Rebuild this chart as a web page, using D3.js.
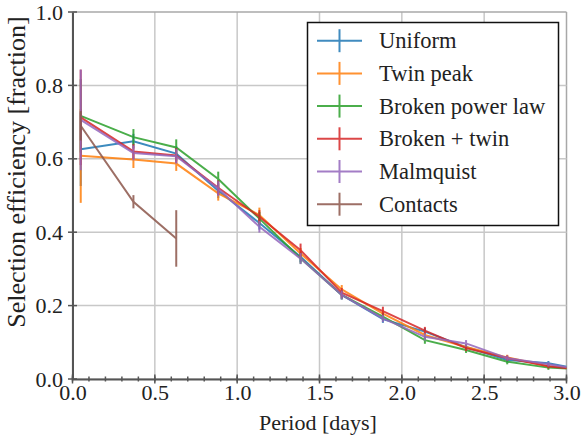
<!DOCTYPE html>
<html>
<head>
<meta charset="utf-8">
<script src="https://cdn.jsdelivr.net/npm/d3@7"></script>
<style>
  html, body { margin: 0; padding: 0; background: #fff; }
  svg { display: block; }
  svg text { font-family: "Liberation Serif", "DejaVu Serif", "Times New Roman", Times, serif !important; fill: #222; }
</style>
</head>
<body>
<svg id="chart" width="585" height="439" style="font-family: 'Liberation Serif', 'DejaVu Serif', serif;"></svg>
<script>
// ---- data ----
const periods = [0.05, 0.37, 0.63, 0.885, 1.135, 1.385, 1.635, 1.885, 2.14, 2.39, 2.64, 2.89, 3.14];
const seriesNames = ["Uniform", "Twin peak", "Broken power law", "Broken + twin", "Malmquist", "Contacts"];
const uniformVals   = [0.626, 0.648, 0.614, 0.513, 0.425, 0.333, 0.229, 0.163, 0.129, 0.087, 0.052, 0.043, 0.022];
const twinPeakVals  = [0.608, 0.598, 0.587, 0.506, 0.447, 0.342, 0.244, 0.178, 0.120, 0.087, 0.059, 0.035, 0.025];
const brokenVals    = [0.717, 0.659, 0.631, 0.545, 0.437, 0.329, 0.229, 0.170, 0.106, 0.079, 0.047, 0.031, 0.025];
const brokenTwinVals= [0.713, 0.620, 0.609, 0.521, 0.442, 0.351, 0.235, 0.185, 0.132, 0.084, 0.057, 0.035, 0.022];
const malmquistVals = [0.706, 0.616, 0.607, 0.519, 0.415, 0.328, 0.229, 0.165, 0.115, 0.097, 0.057, 0.040, 0.022];
const contactsVals  = [0.690, 0.483, 0.383];
const uniformErr    = [0.100, 0.020, 0.020, 0.020, 0.018, 0.015, 0.012, 0.010, 0.010, 0.008, 0.007, 0.006, 0.005];
const twinPeakErr   = [0.128, 0.023, 0.020, 0.020, 0.020, 0.015, 0.012, 0.010, 0.010, 0.008, 0.007, 0.006, 0.005];
const brokenErr     = [0.100, 0.022, 0.022, 0.020, 0.018, 0.015, 0.012, 0.010, 0.010, 0.008, 0.007, 0.006, 0.005];
const brokenTwinErr = [0.130, 0.020, 0.020, 0.020, 0.018, 0.018, 0.013, 0.012, 0.010, 0.008, 0.007, 0.006, 0.005];
const malmquistErr  = [0.137, 0.020, 0.020, 0.020, 0.016, 0.015, 0.012, 0.010, 0.010, 0.009, 0.007, 0.006, 0.005];
const contactsErr   = [0.040, 0.018, 0.077];
const xTicks = [0.0, 0.5, 1.0, 1.5, 2.0, 2.5, 3.0];
const xMinorTicks = d3.range(0, 3.0001, 0.1);
const yTicks = [0.0, 0.2, 0.4, 0.6, 0.8, 1.0];
const colors = ["#1f77b4", "#ff7f0e", "#2ca02c", "#d62728", "#9467bd", "#8c564b"];

const allVals = [uniformVals, twinPeakVals, brokenVals, brokenTwinVals, malmquistVals, contactsVals];
const allErrs = [uniformErr, twinPeakErr, brokenErr, brokenTwinErr, malmquistErr, contactsErr];
const series = seriesNames.map((name, i) => ({
  name, color: colors[i],
  points: allVals[i].map((v, j) => ({ x: periods[j], y: v, e: allErrs[i][j] }))
}));

// ---- layout ----
const FONT = "Liberation Serif, DejaVu Serif, serif";
const svg = d3.select("#chart");
const L = 72.5, R = 566.5, T = 12, B = 379;
const x = d3.scaleLinear().domain([0, 3]).range([L, R]);
const y = d3.scaleLinear().domain([0, 1]).range([B, T]);

svg.append("defs").append("clipPath").attr("id", "clip")
  .append("rect").attr("x", L).attr("y", T).attr("width", R - L).attr("height", B - T);

// grid
const grid = svg.append("g");
grid.selectAll(".gx").data(xTicks).join("line")
  .attr("x1", d => x(d)).attr("x2", d => x(d)).attr("y1", T).attr("y2", B)
  .attr("stroke", (d, i) => i === xTicks.length - 1 ? "#a8a8a8" : "#c8c8c8").attr("stroke-width", 1.5);
grid.selectAll(".gy").data(yTicks).join("line")
  .attr("y1", d => y(d)).attr("y2", d => y(d)).attr("x1", L).attr("x2", R)
  .attr("stroke", (d, i) => i === yTicks.length - 1 ? "#a8a8a8" : "#c8c8c8").attr("stroke-width", 1.5);

// series
const plot = svg.append("g").attr("clip-path", "url(#clip)");
const line = d3.line().x(d => x(d.x)).y(d => y(d.y));
series.forEach(s => {
  const g = plot.append("g").attr("opacity", 0.85);
  g.selectAll("line").data(s.points).join("line")
    .attr("x1", d => x(d.x)).attr("x2", d => x(d.x))
    .attr("y1", d => y(d.y - d.e)).attr("y2", d => y(d.y + d.e))
    .attr("stroke", s.color).attr("stroke-width", 2);
  g.append("path").datum(s.points).attr("d", line)
    .attr("fill", "none").attr("stroke", s.color).attr("stroke-width", 2);
});

// axes
const axisColor = "#555";
const xAxis = d3.axisBottom(x).tickValues(xTicks).tickFormat(d3.format(".1f")).tickSize(0);
const gx = svg.append("g").attr("transform", `translate(0,${B})`).call(xAxis)
  .attr("font-family", FONT).attr("font-size", 22);
gx.select(".domain").attr("stroke", axisColor).attr("stroke-width", 2);
gx.selectAll("text").attr("fill", "#222").attr("dy", null).attr("y", 21);
const yAxis = d3.axisLeft(y).tickValues(yTicks).tickFormat(d3.format(".1f")).tickSize(0);
const gy = svg.append("g").attr("transform", `translate(${L},0)`).call(yAxis)
  .attr("font-family", FONT).attr("font-size", 22);
gy.select(".domain").attr("stroke", axisColor).attr("stroke-width", 2);
gy.selectAll("text").attr("fill", "#222").attr("x", -9.5);

// ticks crossing spines
const tk = svg.append("g").attr("stroke", axisColor).attr("stroke-width", 1.5);
tk.selectAll(".mx").data(xTicks).join("line")
  .attr("x1", d => x(d)).attr("x2", d => x(d)).attr("y1", B - 4.5).attr("y2", B + 4.5);
tk.selectAll(".nx").data(xMinorTicks).join("line")
  .attr("x1", d => x(d)).attr("x2", d => x(d)).attr("y1", B - 2.5).attr("y2", B + 2.5);
tk.selectAll(".my").data(yTicks).join("line")
  .attr("y1", d => y(d)).attr("y2", d => y(d)).attr("x1", L - 4.5).attr("x2", L + 4.5);

// axis labels
svg.append("text").attr("x", 318).attr("y", 430).attr("text-anchor", "middle")
  .attr("font-family", FONT).attr("font-size", 22).text("Period [days]");
svg.append("text").attr("transform", "translate(25,172) rotate(-90)").attr("text-anchor", "middle")
  .attr("font-family", FONT).attr("font-size", 26).text("Selection efficiency [fraction]");

// legend
const lg = svg.append("g");
lg.append("rect").attr("x", 307.5).attr("y", 22.5).attr("width", 251).attr("height", 203)
  .attr("fill", "#fff").attr("stroke", "#111").attr("stroke-width", 1.5);
series.forEach((s, i) => {
  const cy = 40.7 + 32.7 * i;
  const g = lg.append("g").attr("opacity", 0.85);
  g.append("line").attr("x1", 317).attr("x2", 362).attr("y1", cy).attr("y2", cy)
    .attr("stroke", s.color).attr("stroke-width", 2);
  g.append("line").attr("x1", 339.5).attr("x2", 339.5).attr("y1", cy - 11.5).attr("y2", cy + 11.5)
    .attr("stroke", s.color).attr("stroke-width", 2);
  lg.append("text").attr("x", 379).attr("y", cy + 7.5)
    .attr("font-family", FONT).attr("font-size", 22.5).text(s.name);
});
</script>
</body>
</html>
